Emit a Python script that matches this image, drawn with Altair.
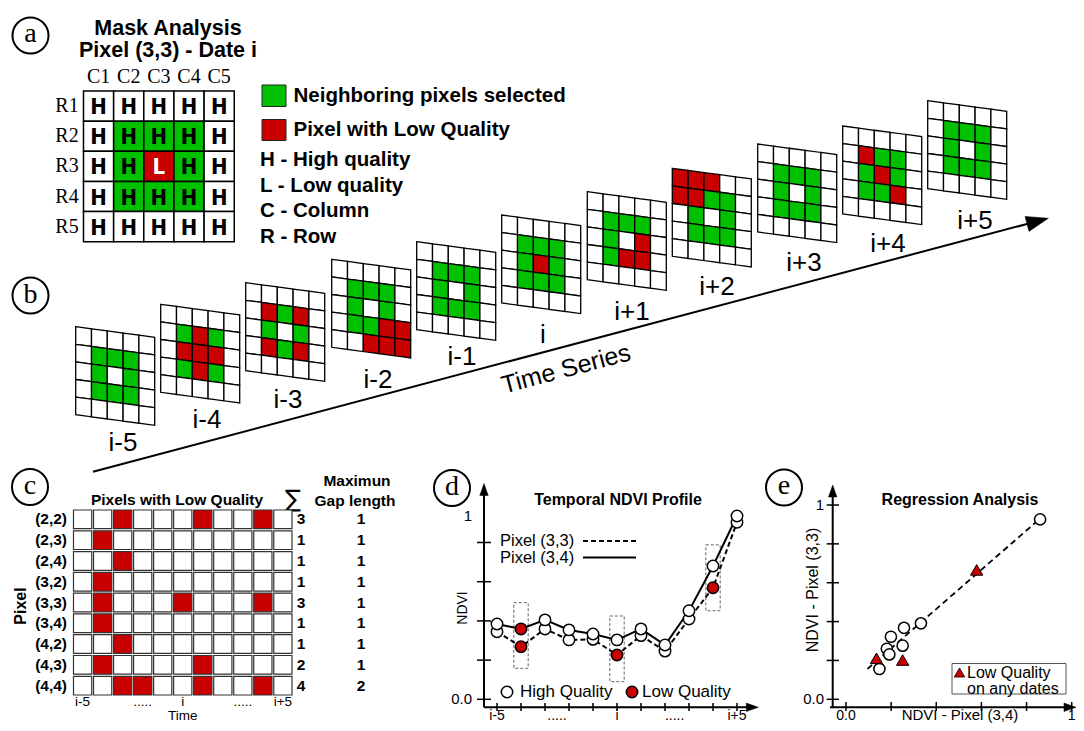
import altair as alt
import pandas as pd
import math

# ------------------------------------------------------------------ data
# (a) mask analysis for pixel (3,3) at date i   (W=white/high, G=neighbour selected, R=low quality)
mask_a = ["WWWWW", "WGGGW", "WGRGW", "WGGGW", "WWWWW"]
col_labels = ["C1", "C2", "C3", "C4", "C5"]
row_labels = ["R1", "R2", "R3", "R4", "R5"]

# (b) the 5x5 masks along the time series
dates = ["i-5", "i-4", "i-3", "i-2", "i-1", "i", "i+1", "i+2", "i+3", "i+4", "i+5"]
masks_b = [
    ["WWWWW", "WGGGW", "WGWGW", "WGGGW", "WWWWW"],  # i-5
    ["WWWWW", "WGRGW", "WRRRW", "WGRGW", "WWWWW"],  # i-4
    ["WWWWW", "WRGRW", "WGWGW", "WRGRW", "WWWWW"],  # i-3
    ["WWWWW", "WGGGW", "WGWGW", "WGGRR", "WWRRR"],  # i-2
    ["WWWWW", "WGGGW", "WGWGW", "WGGGW", "WWWWW"],  # i-1
    ["WWWWW", "WGGGW", "WGRGW", "WGGGW", "WWWWW"],  # i
    ["WWWWW", "WGGGW", "WGWRW", "WGRRW", "WWWWW"],  # i+1
    ["RRRWW", "RRGGW", "WGWGW", "WGGGW", "WWWWW"],  # i+2
    ["WWWWW", "WGGGW", "WGWGW", "WGGGW", "WWWWW"],  # i+3
    ["WWWWW", "WRGGW", "WGRGW", "WGGRW", "WWWWW"],  # i+4
    ["WWWWW", "WGGGW", "WGWGW", "WGGGW", "WWWWW"],  # i+5
]

# (c) pixels with low quality
pixels_c = ["(2,2)", "(2,3)", "(2,4)", "(3,2)", "(3,3)", "(3,4)", "(4,2)", "(4,3)", "(4,4)"]
low_q_idx = [[2, 6, 9], [1], [2], [1], [1, 5, 9], [1], [2], [1, 6], [2, 3, 6, 9]]
sums_c = [3, 1, 1, 1, 3, 1, 1, 2, 4]
gaps_c = [1, 1, 1, 1, 1, 1, 1, 1, 2]

# (d) temporal NDVI profiles
ndvi_33 = [0.345, 0.268, 0.359, 0.303, 0.306, 0.226, 0.325, 0.246, 0.410, 0.569, 0.903]
ndvi_34 = [0.384, 0.359, 0.405, 0.354, 0.333, 0.303, 0.359, 0.277, 0.452, 0.680, 0.935]
box_k = [1, 5, 9]
box_lo = [0.158, 0.090, 0.452]
box_hi = [0.493, 0.425, 0.788]

# (e) regression analysis
e_x34 = [0.148, 0.181, 0.192, 0.199, 0.251, 0.257, 0.332, 0.860, 0.135, 0.251, 0.579]
e_y33 = [0.156, 0.260, 0.231, 0.322, 0.276, 0.368, 0.391, 0.926, 0.211, 0.202, 0.666]
e_q = ["H"] * 8 + ["L"] * 3

# ------------------------------------------------------------------ layout / style
M = 8
VW, VH = 1068, 715
FONT = "Liberation Sans, Arial, sans-serif"
SERIF = "Liberation Serif, Times New Roman, serif"
NARROW = "Liberation Sans Narrow, Arial Narrow, DejaVu Sans Condensed, Liberation Sans, sans-serif"
GREEN = "#00c000"
RED = "#c80000"

SX = alt.Scale(domain=[0, 1084], range=[-M, 1084 - M], nice=False, zero=False)
SY = alt.Scale(domain=[0, 731], range=[-M, 731 - M], nice=False, zero=False)
CELL = alt.Scale(domain=["W", "G", "R"], range=["white", GREEN, RED])

A_X0, A_Y0, A_S = 83.5, 91.0, 30.15
B_X0 = [75.7, 160.7, 245.7, 331.7, 416.7, 501.7, 587.3, 672.3, 757.7, 842.7, 927.7]
B_Y0 = [326.7, 304.3, 282.7, 259.3, 241.7, 215.0, 191.7, 168.3, 144.0, 126.0, 100.7]
B_W, B_H, B_DROP = 79.0, 88.0, 10.6
B_LX = [123, 207, 288, 378, 462, 543, 632, 717, 804, 888, 975]
B_LY = [443, 420, 400, 380, 357, 335, 312, 287, 263, 244, 221]
ARROW_A, ARROW_B = (93.0, 471.7), (1048.3, 218.3)
BOTTOM_Y = 715   # text row along the bottom edge of panels d, e


def px(df):
    return dict(x=alt.X("x:Q", scale=SX, axis=None), y=alt.Y("y:Q", scale=SY, axis=None))


def dtext(rows, size, weight="normal", font=FONT, align="center", angle=0, color="black"):
    df = pd.DataFrame(rows, columns=["t", "x", "y"])
    kw = dict(font=font, fontSize=size, fontWeight=weight, align=align, baseline="middle", color=color)
    if angle:
        kw["angle"] = angle
    return alt.Chart(df).mark_text(**kw).encode(text="t:N", **px(df))


def dsym(rows, shape, size, fill, stroke="black", sw=1.5, angle=0, filled=True):
    df = pd.DataFrame(rows, columns=["x", "y"])
    kw = dict(shape=shape, size=size, stroke=stroke, strokeWidth=sw, opacity=1)
    if filled:
        kw.update(filled=True, fill=fill, fillOpacity=1)
    else:
        kw.update(filled=False)
    if angle:
        kw["angle"] = angle
    return alt.Chart(df).mark_point(**kw).encode(**px(df))


def drule(rows, sw=2, dash=None, color="black"):
    df = pd.DataFrame(rows, columns=["x", "y", "x2", "y2"])
    kw = dict(color=color, strokeWidth=sw)
    if dash:
        kw["strokeDash"] = dash
    return alt.Chart(df).mark_rule(**kw).encode(
        x=alt.X("x:Q", scale=SX, axis=None), y=alt.Y("y:Q", scale=SY, axis=None),
        x2="x2:Q", y2="y2:Q")


# ------------------------------------------------------------------ (a)
a_rows = []
for r in range(5):
    for c in range(5):
        code = mask_a[r][c]
        a_rows.append(dict(x=A_X0 + c * A_S, x2=A_X0 + (c + 1) * A_S,
                           y=A_Y0 + r * A_S, y2=A_Y0 + (r + 1) * A_S,
                           cx=A_X0 + (c + 0.5) * A_S, cy=A_Y0 + (r + 0.5) * A_S + 1,
                           code=code, t="L" if code == "R" else "H"))
a_df = pd.DataFrame(a_rows)
a_cells = alt.Chart(a_df).mark_rect(stroke="black", strokeWidth=1.5, opacity=1).encode(
    x=alt.X("x:Q", scale=SX, axis=None), x2="x2:Q",
    y=alt.Y("y:Q", scale=SY, axis=None), y2="y2:Q",
    color=alt.Color("code:N", scale=CELL, legend=None))
a_letters = alt.Chart(a_df).mark_text(font=NARROW, fontWeight="bold", fontSize=22, baseline="middle").encode(
    x=alt.X("cx:Q", scale=SX, axis=None), y=alt.Y("cy:Q", scale=SY, axis=None), text="t:N",
    color=alt.condition("datum.code == 'R'", alt.value("white"), alt.value("black")))
a_cols = dtext([(l, A_X0 + (i + 0.5) * A_S, 77) for i, l in enumerate(col_labels)], 20, font=SERIF)
a_rowl = dtext([(l, 67, A_Y0 + (i + 0.5) * A_S) for i, l in enumerate(row_labels)], 20, font=SERIF)
a_title = dtext([("Mask Analysis", 168, 29), ("Pixel (3,3) - Date i", 168, 51)], 21.5, weight="bold")

leg_sq = alt.Chart(pd.DataFrame({"x": [262, 262], "x2": [286, 286], "y": [85, 119.5],
                                 "y2": [106.5, 140.5], "code": ["G", "R"]})).mark_rect(
    stroke="#222", strokeWidth=1, opacity=1).encode(
    x=alt.X("x:Q", scale=SX, axis=None), x2="x2:Q", y=alt.Y("y:Q", scale=SY, axis=None), y2="y2:Q",
    color=alt.Color("code:N", scale=CELL, legend=None))
leg_txt = dtext([("Neighboring pixels selected", 293.5, 96), ("Pixel with Low Quality", 293.5, 129.5),
                 ("H - High quality", 260, 160), ("L  - Low quality", 260, 186),
                 ("C - Column", 260, 211), ("R - Row", 260, 237)], 20.5, weight="bold", align="left")

# ------------------------------------------------------------------ (b)
b_rows = []
for k, mask in enumerate(masks_b):
    for r in range(5):
        for c in range(5):
            for side in (0, 1):
                f = (c + side) / 5
                yt = B_Y0[k] + r * B_H / 5 + f * B_DROP
                b_rows.append(dict(cid=f"{k}-{r}-{c}", x=B_X0[k] + f * B_W, yt=yt, yb=yt + B_H / 5,
                                   code=mask[r][c]))
b_cells = alt.Chart(pd.DataFrame(b_rows)).mark_area(stroke="black", strokeWidth=1.3, opacity=1,
                                                    fillOpacity=1).encode(
    x=alt.X("x:Q", scale=SX, axis=None),
    y=alt.Y("yt:Q", scale=SY, axis=None, stack=False), y2="yb:Q",
    color=alt.Color("code:N", scale=CELL, legend=None), detail="cid:N")
b_labels = dtext([(d, B_LX[k], B_LY[k]) for k, d in enumerate(dates)], 26)

(ax, ay), (bx, by) = ARROW_A, ARROW_B
L = ((bx - ax) ** 2 + (by - ay) ** 2) ** 0.5
ux, uy = (bx - ax) / L, (by - ay) / L
ang = math.degrees(math.atan2(uy, ux)) % 360
arrow_line = drule([(ax, ay, bx - 18 * ux, by - 18 * uy)], sw=2)
arrow_head = dsym([(bx - 11 * ux, by - 11 * uy)], "M1,0L-1,-0.7L-1,0.7Z", 484, "black", sw=0.5, angle=ang)
ts_text = dtext([("Time Series", 566, 369)], 25, angle=ang)

circ = dsym([(30.5, 35.5), (30.5, 295.5), (30, 487), (452, 488), (784, 487.5)], "circle", 1296, "white",
            sw=2, filled=False)
circ_t = dtext([("a", 30.5, 34), ("b", 30.5, 295), ("c", 30, 486), ("d", 452, 487), ("e", 784, 486)], 28,
               font=SERIF)

# ------------------------------------------------------------------ static text of (c), (d), (e)
c_txt_b = dtext([("Pixels with Low Quality", 177, 500), ("Maximun", 357, 481), ("Gap length", 355, 501)],
                15.5, weight="bold")
c_sig = dtext([("\u2211", 293, 500)], 24, font="DejaVu Sans")
c_pix = dtext([("Pixel", 21, 606)], 16, weight="bold", angle=270)

d_title = dtext([("Temporal NDVI Profile", 618, 500)], 16, weight="bold")
d_leg = dtext([("Pixel (3,3)", 500, 541), ("Pixel (3,4)", 500, 557.5)], 16.5, align="left")
d_leg_l1 = drule([(583, 541, 636, 541)], sw=2, dash=[5, 3])
d_leg_l2 = drule([(583, 557.5, 636, 557.5)], sw=2)
d_leg_q = dtext([("High Quality", 520, 692), ("Low Quality", 642, 692)], 17, align="left")
d_leg_c1 = dsym([(507, 692)], "circle", 130, "white")
d_leg_c2 = dsym([(632, 692)], "circle", 130, RED)
d_ylab = dtext([("NDVI", 463, 608)], 14, angle=270)
d_axes = drule([(484, 707.3, 484, 490), (484, 707.3, 752, 707.3)], sw=2)
d_arr = alt.layer(dsym([(484, 489.5)], "M0,-1L-0.7,1L0.7,1Z", 144, "black", sw=0.5),
                  dsym([(752.3, 707.3)], "M1,0L-1,-0.7L-1,0.7Z", 144, "black", sw=0.5))

e_title = dtext([("Regression Analysis", 960, 500)], 16, weight="bold")
e_ylab = dtext([("NDVI - Pixel (3,3)", 813, 590)], 16, angle=270)
e_xlab = dtext([("NDVI - Pixel (3,4)", 960, BOTTOM_Y)], 15)
e_axes = drule([(832.7, 707.3, 832.7, 491), (830, 707.3, 1070, 707.3)], sw=2)
e_arr = alt.layer(dsym([(832.7, 491)], "M0,-1L-0.7,1L0.7,1Z", 144, "black", sw=0.5),
                  dsym([(1070, 707.3)], "M1,0L-1,-0.7L-1,0.7Z", 144, "black", sw=0.5))
e_box = alt.Chart(pd.DataFrame({"x": [952], "x2": [1066], "y": [663.5], "y2": [694]})).mark_rect(
    fillOpacity=0, stroke="#555", strokeWidth=1).encode(
    x=alt.X("x:Q", scale=SX, axis=None), x2="x2:Q", y=alt.Y("y:Q", scale=SY, axis=None), y2="y2:Q")
e_box_tri = dsym([(959.5, 672.5)], "triangle-up", 110, RED, sw=0.8)
e_box_txt = dtext([("Low Quality", 967, 673), ("on any dates", 967, 688.5)], 16, align="left")

diagram = alt.layer(a_cells, a_letters, a_cols, a_rowl, a_title, leg_sq, leg_txt,
                    b_cells, b_labels, arrow_line, arrow_head, ts_text, circ, circ_t,
                    c_txt_b, c_sig, c_pix,
                    d_title, d_leg, d_leg_l1, d_leg_l2, d_leg_c1, d_leg_c2, d_leg_q, d_ylab, d_axes, d_arr,
                    e_title, e_ylab, e_xlab, e_axes, e_arr, e_box, e_box_tri, e_box_txt)

# ------------------------------------------------------------------ (c) table
CX = alt.Scale(domain=dates, range=[73.5 - M, 292 - M], paddingInner=0.09, paddingOuter=0)
CY = alt.Scale(domain=pixels_c, range=[510 - M, 695 - M], paddingInner=0.1, paddingOuter=0)
c_df = pd.DataFrame([dict(pixel=p, date=d, q="L" if j in low_q_idx[i] else "H")
                     for i, p in enumerate(pixels_c) for j, d in enumerate(dates)])
c_cells = alt.Chart(c_df).mark_rect(stroke="#333", strokeWidth=1.2, opacity=1).encode(
    x=alt.X("date:N", scale=CX, axis=None), y=alt.Y("pixel:N", scale=CY, axis=None),
    color=alt.Color("q:N", scale=alt.Scale(domain=["H", "L"], range=["white", RED]), legend=None))
c_side = pd.DataFrame({"pixel": pixels_c, "sum": [str(s) for s in sums_c], "gap": [str(g) for g in gaps_c]})
c_rowlab = alt.Chart(c_side).mark_text(font=FONT, fontWeight="bold", fontSize=15.5, align="right",
                                       baseline="middle").encode(
    y=alt.Y("pixel:N", scale=CY, axis=None), x=alt.value(67 - M), text="pixel:N")
c_sum = alt.Chart(c_side).mark_text(font=FONT, fontWeight="bold", fontSize=15.5, baseline="middle").encode(
    y=alt.Y("pixel:N", scale=CY, axis=None), x=alt.value(301 - M), text="sum:N")
c_gap = alt.Chart(c_side).mark_text(font=FONT, fontWeight="bold", fontSize=15.5, baseline="middle").encode(
    y=alt.Y("pixel:N", scale=CY, axis=None), x=alt.value(361 - M), text="gap:N")
c_xl = alt.Chart(pd.DataFrame({"date": ["i-5", "i-2", "i", "i+3", "i+5"],
                               "lab": ["i-5", ".....", "i", ".....", "i+5"]})).mark_text(
    font=FONT, fontSize=13.5, baseline="middle").encode(
    x=alt.X("date:N", scale=CX, axis=None), y=alt.value(702 - M), text="lab:N")
c_time = alt.Chart(pd.DataFrame({"date": ["i"], "lab": ["Time"]})).mark_text(
    font=FONT, fontSize=13.5, baseline="middle").encode(
    x=alt.X("date:N", scale=CX, axis=None), y=alt.value(716 - M), text="lab:N")
panel_c = alt.layer(c_cells, c_rowlab, c_sum, c_gap, c_xl, c_time)

# ------------------------------------------------------------------ (d) NDVI profile
DX = alt.Scale(domain=[0, 10], range=[497 - M, 737 - M], nice=False, zero=False)
DY = alt.Scale(domain=[0, 1], range=[699.3 - M, 503.3 - M], nice=False, zero=False)
ks = list(range(len(dates)))
q33 = ["L" if k in low_q_idx[4] else "H" for k in ks]
q34 = ["L" if k in low_q_idx[5] else "H" for k in ks]
d_df = pd.DataFrame({"k": ks * 2, "v": ndvi_33 + ndvi_34, "s": ["33"] * 11 + ["34"] * 11, "q": q33 + q34})
dxe = alt.X("k:Q", scale=DX, axis=None)
dye = alt.Y("v:Q", scale=DY, axis=None)
d_box = alt.Chart(pd.DataFrame({"k1": [k - 0.3 for k in box_k], "k2": [k + 0.3 for k in box_k],
                                "lo": box_lo, "hi": box_hi})).mark_rect(
    fillOpacity=0, stroke="#666", strokeWidth=1, strokeDash=[3, 2]).encode(
    x=alt.X("k1:Q", scale=DX, axis=None), x2="k2:Q", y=alt.Y("lo:Q", scale=DY, axis=None), y2="hi:Q")
d_l33 = alt.Chart(d_df).transform_filter("datum.s == '33'").mark_line(
    color="black", strokeWidth=2, strokeDash=[5, 3]).encode(x=dxe, y=dye)
d_l34 = alt.Chart(d_df).transform_filter("datum.s == '34'").mark_line(
    color="black", strokeWidth=2).encode(x=dxe, y=dye)
d_pts = alt.Chart(d_df).mark_point(shape="circle", size=130, filled=True, stroke="black", strokeWidth=1.5,
                                   opacity=1, fillOpacity=1).encode(
    x=dxe, y=dye, fill=alt.Fill("q:N", scale=alt.Scale(domain=["H", "L"], range=["white", RED]), legend=None))
d_xt = alt.Chart(pd.DataFrame({"k": ks})).mark_rule(color="black", strokeWidth=1.5).encode(
    x=dxe, y=alt.value(703 - M), y2=alt.value(711 - M))
d_yt = alt.Chart(pd.DataFrame({"v": [0, 0.2, 0.4, 0.6, 0.8]})).mark_rule(color="black", strokeWidth=1.5).encode(
    y=dye, x=alt.value(477 - M), x2=alt.value(491 - M))
d_xl = alt.Chart(pd.DataFrame({"k": [0, 2.5, 5, 7.4, 10], "lab": ["i-5", ".....", "i", ".....", "i+5"]})).mark_text(
    font=FONT, fontSize=14, baseline="middle").encode(x=dxe, y=alt.value(BOTTOM_Y + 1 - M), text="lab:N")
d_yl = alt.Chart(pd.DataFrame({"v": [0.0, 0.935], "lab": ["0.0", "1"]})).mark_text(
    font=FONT, fontSize=15, baseline="middle", align="right").encode(y=dye, x=alt.value(472 - M), text="lab:N")
panel_d = alt.layer(d_box, d_l33, d_l34, d_pts, d_xt, d_yt, d_xl, d_yl)

# ------------------------------------------------------------------ (e) regression
EX = alt.Scale(domain=[0, 1], range=[846 - M, 1071.7 - M], nice=False, zero=False)
EY = alt.Scale(domain=[0, 1], range=[699.3 - M, 505 - M], nice=False, zero=False)
e_df = pd.DataFrame({"x": e_x34, "y": e_y33, "q": e_q})
exe = alt.X("x:Q", scale=EX, axis=None)
eye = alt.Y("y:Q", scale=EY, axis=None)
e_reg = alt.Chart(e_df).transform_filter("datum.q == 'H'").transform_regression(
    "x", "y", extent=[0.095, 0.86]).mark_line(color="black", strokeWidth=1.8, strokeDash=[6, 4]).encode(x=exe, y=eye)
e_c = alt.Chart(e_df).transform_filter("datum.q == 'H'").mark_point(
    shape="circle", size=125, filled=True, fill="white", stroke="black", strokeWidth=1.5, opacity=1,
    fillOpacity=1).encode(x=exe, y=eye)
e_t = alt.Chart(e_df).transform_filter("datum.q == 'L'").mark_point(
    shape="triangle-up", size=150, filled=True, fill=RED, stroke="black", strokeWidth=1, opacity=1,
    fillOpacity=1).encode(x=exe, y=eye)
ticks = pd.DataFrame({"v": [0, 0.2, 0.4, 0.6, 0.8, 1.0]})
e_xt = alt.Chart(ticks).mark_rule(color="black", strokeWidth=1.5).encode(
    x=alt.X("v:Q", scale=EX, axis=None), y=alt.value(702 - M), y2=alt.value(711 - M))
e_yt = alt.Chart(ticks).mark_rule(color="black", strokeWidth=1.5).encode(
    y=alt.Y("v:Q", scale=EY, axis=None), x=alt.value(826.7 - M), x2=alt.value(839 - M))
elab = pd.DataFrame({"v": [0.0, 1.0], "lab": ["0.0", "1"]})
e_xl = alt.Chart(elab).mark_text(font=FONT, fontSize=14, baseline="middle").encode(
    x=alt.X("v:Q", scale=EX, axis=None), y=alt.value(BOTTOM_Y + 1 - M), text="lab:N")
e_yl = alt.Chart(elab).mark_text(font=FONT, fontSize=15, baseline="middle", align="right").encode(
    y=alt.Y("v:Q", scale=EY, axis=None), x=alt.value(824 - M), text="lab:N")
panel_e = alt.layer(e_reg, e_c, e_t, e_xt, e_yt, e_xl, e_yl)

# ------------------------------------------------------------------ assemble
chart = alt.layer(diagram, panel_c, panel_d, panel_e).resolve_scale(
    x="independent", y="independent", color="independent", fill="independent"
).properties(
    width=VW, height=VH, padding=0, autosize=alt.AutoSizeParams(type="none"), background="white"
).configure_view(strokeWidth=0)

chart.save("out.html", embed_options={"renderer": "svg", "actions": False})
